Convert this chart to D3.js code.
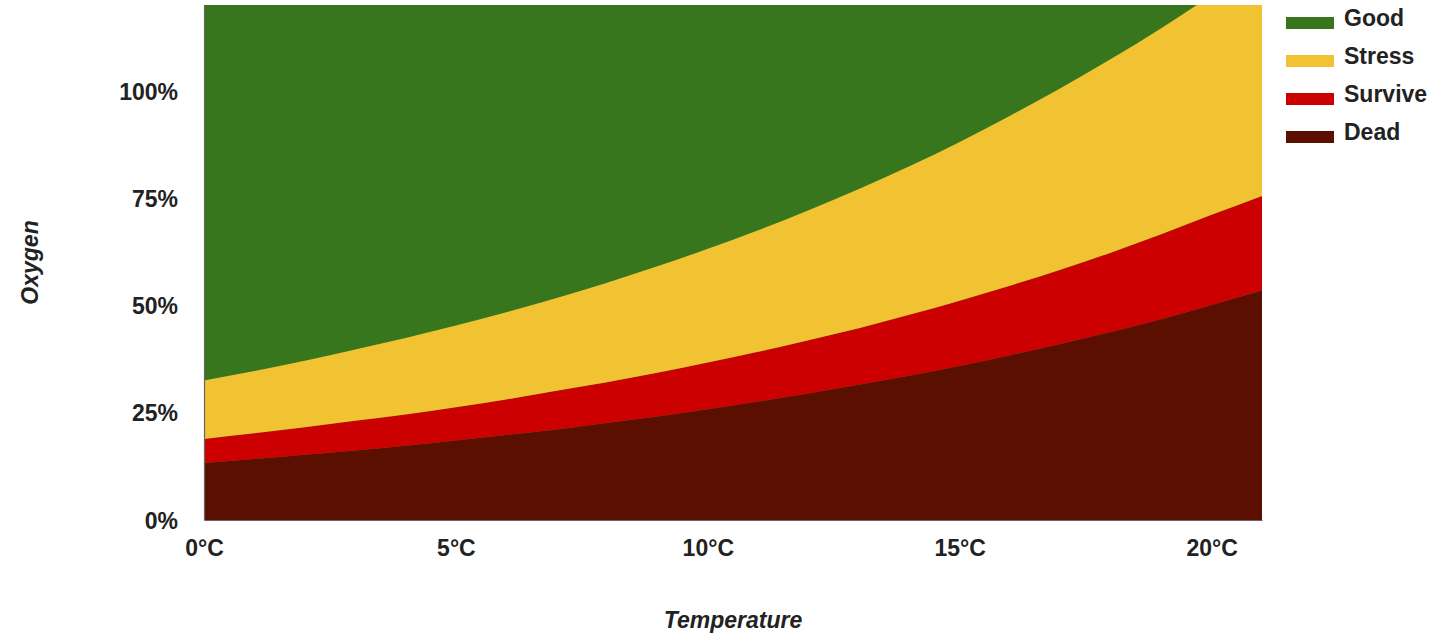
<!DOCTYPE html>
<html>
<head>
<meta charset="utf-8">
<script src="https://cdn.jsdelivr.net/npm/d3@7"></script>
<style>
  html, body { margin: 0; padding: 0; background: #fff; }
  svg { display: block; font-family: "Liberation Sans", Arial, sans-serif; }
</style>
</head>
<body>
<svg id="chart" width="1437" height="634"></svg>
<script>
// ---- data ----
const temperatures = [0,1,2,3,4,5,6,7,8,9,10,11,12,13,14,15,16,17,18,19,20,21];
const dead    = [13.3,14.2,15.2,16.2,17.3,18.5,19.8,21.1,22.6,24.1,25.8,27.6,29.5,31.5,33.6,35.9,38.4,41.0,43.8,46.8,50.1,53.5];
const survive = [5.6,6.0,6.4,6.9,7.3,7.8,8.3,9.0,9.5,10.2,10.9,11.6,12.4,13.2,14.2,15.2,16.2,17.3,18.5,19.8,21.0,22.0];
const stress  = [13.6,14.5,15.5,16.6,17.8,19.0,20.3,21.6,23.2,24.8,26.5,28.3,30.3,32.4,34.6,37.0,39.6,42.3,45.1,48.0,51.3,55.8];
const good    = [87.5,85.3,82.9,80.3,77.6,74.7,71.6,68.3,64.7,60.9,56.8,52.5,47.8,42.9,37.6,31.9,25.8,19.4,12.6,5.4,0,0];
const seriesNames = ["Dead","Survive","Stress","Good"];
const legendOrder = ["Good","Stress","Survive","Dead"];
const xTickValues = [0,5,10,15,20];
const yTickValues = [0,25,50,75,100];
const colors = { Good: "#38761d", Stress: "#f1c232", Survive: "#cc0000", Dead: "#5b0f00" };

// ---- layout ----
const svg = d3.select("#chart");
const pLeft = 204, pRight = 1262, pTop = 5, pBottom = 520;
const fontSize = "23px";

const x = d3.scaleLinear().domain([0, 21]).range([pLeft, pRight]);
const y = d3.scaleLinear().domain([0, 120]).range([pBottom, pTop]);

const table = temperatures.map((t, i) => ({
  t, Dead: dead[i], Survive: survive[i], Stress: stress[i], Good: good[i]
}));
const stacked = d3.stack().keys(seriesNames)(table);

svg.append("defs").append("clipPath").attr("id", "plotClip")
  .append("rect").attr("x", pLeft).attr("y", pTop)
  .attr("width", pRight - pLeft).attr("height", pBottom - pTop);

const area = d3.area()
  .curve(d3.curveMonotoneX)
  .x(d => x(d.data.t))
  .y0(d => y(d[0]))
  .y1(d => y(d[1]));

const g = svg.append("g").attr("clip-path", "url(#plotClip)");
// Good band fills up to the top of the plot area
g.append("rect").attr("x", pLeft).attr("y", pTop)
  .attr("width", pRight - pLeft).attr("height", pBottom - pTop)
  .attr("fill", colors.Good);
g.selectAll("path.band")
  .data(stacked.filter(s => s.key !== "Good"))
  .join("path")
  .attr("class", "band")
  .attr("fill", d => colors[d.key])
  .attr("d", area);

// axes
const textColor = "#222";
const xAxis = svg.append("g").attr("transform", `translate(0,${pBottom})`)
  .call(d3.axisBottom(x).tickValues(xTickValues).tickSize(0).tickPadding(0)
    .tickFormat(d => d + "°C"));
xAxis.select(".domain").attr("stroke", "#666").attr("stroke-width", 1.2);
xAxis.selectAll("text")
  .attr("y", 36).attr("dy", 0)
  .attr("fill", textColor)
  .style("font-size", fontSize).style("font-weight", "bold");

const yAxis = svg.append("g").attr("transform", `translate(${pLeft},0)`)
  .call(d3.axisLeft(y).tickValues(yTickValues).tickSize(0).tickPadding(0)
    .tickFormat(d => d + "%"));
yAxis.select(".domain").attr("stroke", "#666").attr("stroke-width", 1.2);
yAxis.selectAll("text")
  .attr("x", -26).attr("dy", "0.36em")
  .attr("fill", textColor)
  .style("font-size", fontSize).style("font-weight", "bold");

// axis titles
svg.append("text")
  .attr("x", (pLeft + pRight) / 2).attr("y", 628)
  .attr("text-anchor", "middle")
  .attr("fill", textColor)
  .style("font-size", fontSize).style("font-weight", "bold").style("font-style", "italic")
  .text("Temperature");
svg.append("text")
  .attr("transform", `translate(38,${(pTop + pBottom) / 2}) rotate(-90)`)
  .attr("text-anchor", "middle")
  .attr("fill", textColor)
  .style("font-size", fontSize).style("font-weight", "bold").style("font-style", "italic")
  .text("Oxygen");

// legend
const legend = svg.append("g").attr("transform", "translate(1286,23)");
const rows = legend.selectAll("g").data(legendOrder).join("g")
  .attr("transform", (d, i) => `translate(0,${i * 38})`);
rows.append("rect").attr("x", 0).attr("y", -6).attr("width", 48).attr("height", 12)
  .attr("fill", d => colors[d]);
rows.append("text").attr("x", 58).attr("y", 3)
  .attr("fill", textColor)
  .style("font-size", fontSize).style("font-weight", "bold")
  .text(d => d);
</script>
</body>
</html>
